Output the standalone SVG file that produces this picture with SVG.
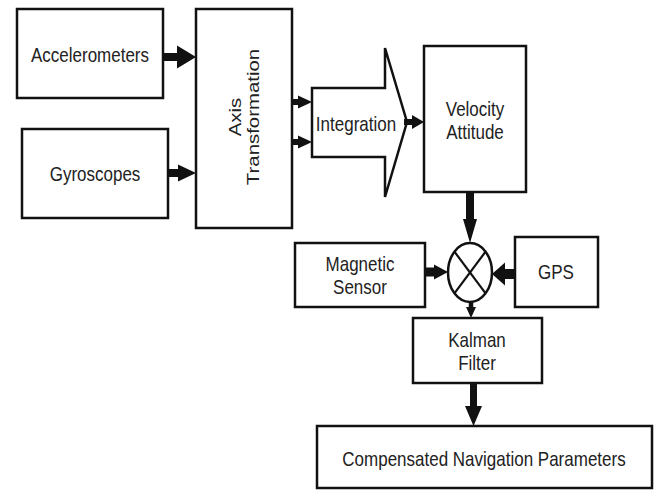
<svg xmlns="http://www.w3.org/2000/svg" width="659" height="490" viewBox="0 0 659 490">
<style>
.box{fill:#fff;stroke:#111;stroke-width:2.5}
.t{font-family:"Liberation Sans",Arial,sans-serif;font-size:17px;fill:#222;text-anchor:middle}
.arr{fill:#111;stroke:none}
.x{stroke:#111;stroke-width:2.2;fill:none}
</style>
<rect width="659" height="490" fill="#fff"/>
<g id="accelerometers">
<rect class="box" x="17" y="9" width="146" height="89"/>
<text class="t" transform="translate(90,62) scale(1,1.2)">Accelerometers</text>
</g>
<g id="gyroscopes">
<rect class="box" x="22" y="129" width="146" height="89"/>
<text class="t" transform="translate(95,181) scale(1,1.2)">Gyroscopes</text>
</g>
<g id="axis">
<rect class="box" x="196" y="9" width="96" height="219"/>
<text class="t" transform="translate(241,117) scale(1,1.2) rotate(-90)">Axis</text>
<text class="t" transform="translate(259,117) scale(1,1.2) rotate(-90)">Transformation</text>
</g>
<g id="integration">
<polygon class="box" stroke-width="2.2" points="312,88 385,88 385,48 407,122 385,197 385,157 312,157"/>
<text class="t" transform="translate(356,131) scale(1,1.2)">Integration</text>
</g>
<g id="velocity">
<rect class="box" x="424" y="46" width="102" height="146"/>
<text class="t" transform="translate(475,116) scale(1,1.2)">Velocity</text>
<text class="t" transform="translate(475,139) scale(1,1.2)">Attitude</text>
</g>
<g id="sum">
<ellipse class="box" cx="470" cy="272.5" rx="22" ry="29.5"/>
<line class="x" x1="454.4" y1="251.6" x2="485.6" y2="293.4"/>
<line class="x" x1="485.6" y1="251.6" x2="454.4" y2="293.4"/>
</g>
<g id="magnetic">
<rect class="box" x="295" y="243" width="130" height="64"/>
<text class="t" transform="translate(360,271) scale(1,1.2)">Magnetic</text>
<text class="t" transform="translate(360,294) scale(1,1.2)">Sensor</text>
</g>
<g id="gps">
<rect class="box" x="515" y="237" width="83" height="70"/>
<text class="t" transform="translate(556,279) scale(1,1.2)">GPS</text>
</g>
<g id="kalman">
<rect class="box" x="413" y="318" width="129" height="65"/>
<text class="t" transform="translate(477,347) scale(1,1.2)">Kalman</text>
<text class="t" transform="translate(477,370) scale(1,1.2)">Filter</text>
</g>
<g id="compensated">
<rect class="box" x="317" y="426" width="335" height="62"/>
<text class="t" transform="translate(484,466) scale(1,1.2)">Compensated Navigation Parameters</text>
</g>
<g id="connectors">
<path class="arr" d="M163,53 H177 V45.5 L196,57 L177,68.5 V61 H163 Z"/>
<path class="arr" d="M168,169 H178 V164.5 L196,173 L178,181.5 V177 H168 Z"/>
<path class="arr" d="M292,99 H298 V95.5 L312,102 L298,108.5 V105 H292 Z"/>
<path class="arr" d="M292,139 H298 V135.5 L312,142 L298,148.5 V145 H292 Z"/>
<path class="arr" d="M404,119 H412 V115 L424,122 L412,129 V125 H404 Z"/>
<path class="arr" d="M466,192 V219 H463 L470,243 L477,219 H474 V192 Z"/>
<path class="arr" d="M425,267.5 H434 V264.5 L448,272 L434,279.5 V276.5 H425 Z"/>
<path class="arr" d="M515,269 H505 V262.5 L492,274 L505,285.5 V279 H515 Z"/>
<path class="arr" d="M468.75,302 V307 H466 L471,318 L476,307 H473.25 V302 Z"/>
<path class="arr" d="M470,383 V406 H465 L473.5,426 L482,406 H477 V383 Z"/>
</g>
</svg>
